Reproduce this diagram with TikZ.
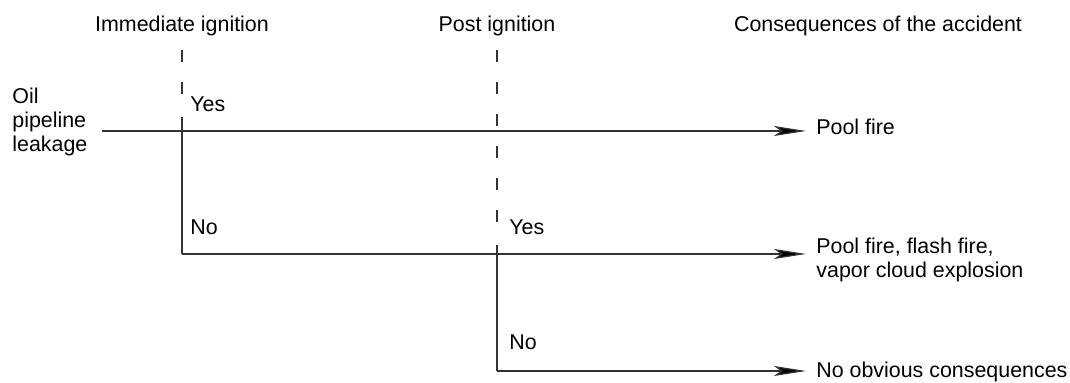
\documentclass[tikz,border=0pt]{standalone}
\usepackage{fontspec}
\setmainfont{Liberation Sans}
\usetikzlibrary{arrows.meta}
\begin{document}
\begin{tikzpicture}[x=0.5pt,y=-0.5pt,
  lbl/.style={font=\fontsize{10.7pt}{12pt}\selectfont, inner sep=0pt, text=black, align=left},
  ln/.style={draw=black!80, line width=0.6pt},
  guide/.style={ln, dash pattern=on 6pt off 10pt},
  arr/.style={ln, -{Stealth[length=16pt,width=5pt,inset=3.5pt,fill=black]}}]
\useasboundingbox (0,0) rectangle (1070,383);

% column headings
\node[lbl, anchor=base] (hImm)  at (182,32) {Immediate ignition};
\node[lbl, anchor=base] (hPost) at (497,32) {Post ignition};
\node[lbl, anchor=base] (hCons) at (878,32) {Consequences of the accident};

% initiating event (base anchor = baseline of the last line)
\node[lbl, anchor=base west] (start) at (12,152) {Oil\\pipeline\\leakage};

% outcomes
\node[lbl, anchor=base west] (out1) at (816,135) {Pool fire};
\node[lbl, anchor=base west] (out2) at (816,278) {Pool fire, flash fire,\\vapor cloud explosion};
\node[lbl, anchor=base west] (out3) at (816,378) {No obvious consequences};

% branch labels
\node[lbl, anchor=base west] (yes1) at (190,112) {Yes};
\node[lbl, anchor=base west] (no1)  at (190,235) {No};
\node[lbl, anchor=base west] (yes2) at (509,235) {Yes};
\node[lbl, anchor=base west] (no2)  at (509,350) {No};

% branch points and line ends
\coordinate (s0) at (102,131);
\coordinate (g1top) at (182,50);
\coordinate (g1end) at (182,110);
\coordinate (b1) at (182,117);
\coordinate (b1low) at (182,254);
\coordinate (g2top) at (497,50);
\coordinate (g2end) at (497,238);
\coordinate (b2) at (497,245);
\coordinate (b2low) at (497,371);
\coordinate (t1) at (806,131);
\coordinate (t2) at (806,254);
\coordinate (t3) at (806,371);

% dashed stage guides
\draw[guide] (g1top) -- (g1end);
\draw[guide] (g2top) -- (g2end);

% event tree
\draw[arr] (s0) -- (t1);
\draw[ln] (b1) -- (b1low);
\draw[arr] (b1low) -- (t2);
\draw[ln] (b2) -- (b2low);
\draw[arr] (b2low) -- (t3);
\end{tikzpicture}
\end{document}
